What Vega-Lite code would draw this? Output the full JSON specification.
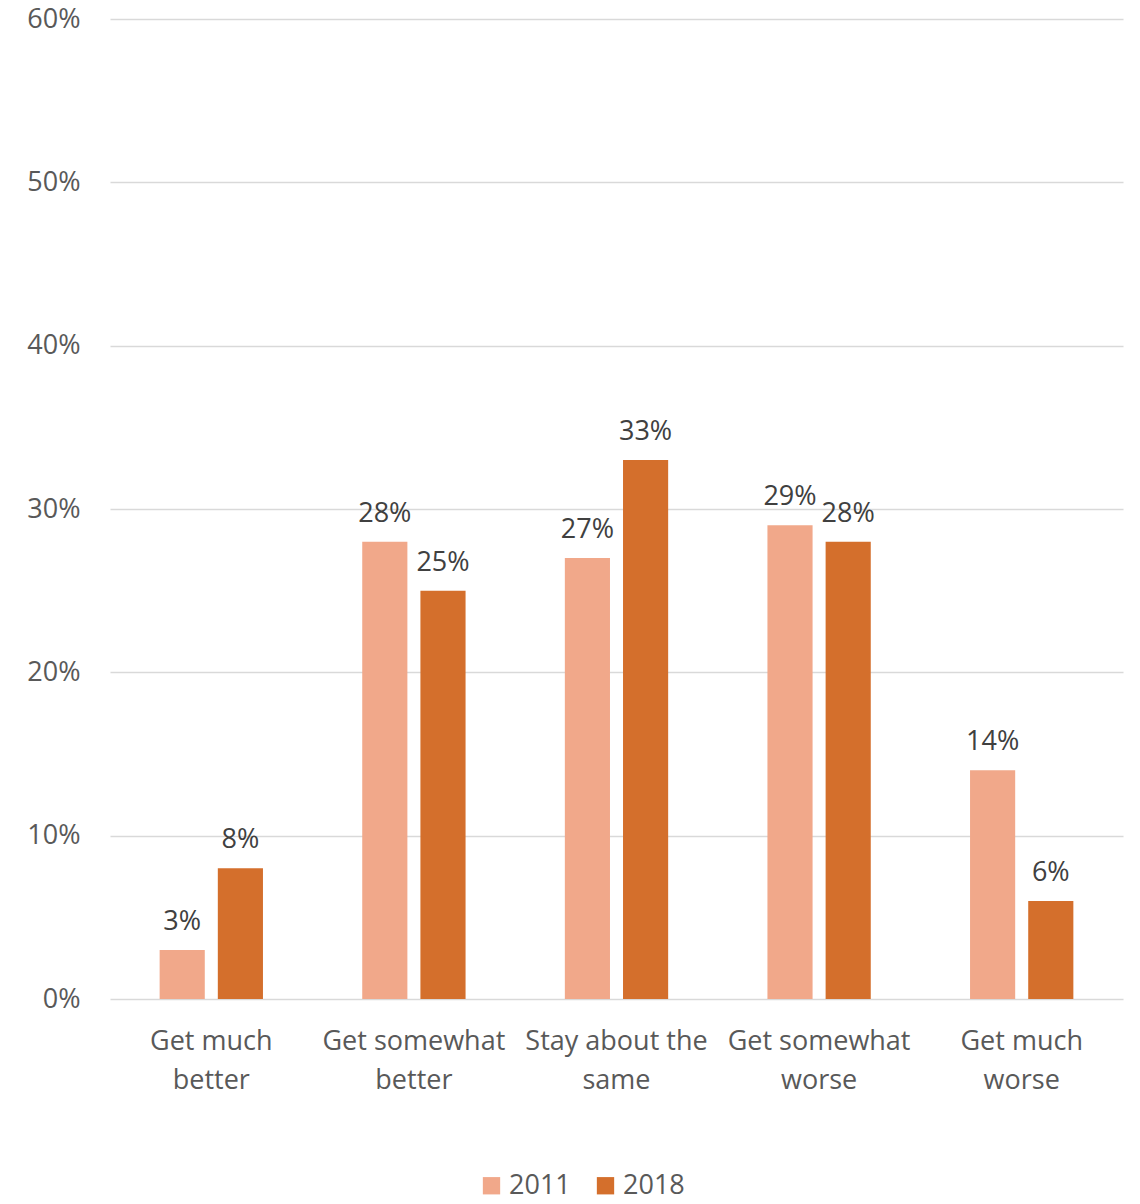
{
  "$schema": "https://vega.github.io/schema/vega-lite/v6.json",
  "width": 1013,
  "height": 980,
  "autosize": "none",
  "padding": {"left": 110, "top": 19, "right": 17, "bottom": 205},
  "background": "white",
  "config": {
    "view": {"stroke": null},
    "font": "Open Sans"
  },
  "data": {
    "values": [
      {"category": "Get much better", "year": "2011", "value": 0.03},
      {"category": "Get much better", "year": "2018", "value": 0.08},
      {"category": "Get somewhat better", "year": "2011", "value": 0.28},
      {"category": "Get somewhat better", "year": "2018", "value": 0.25},
      {"category": "Stay about the same", "year": "2011", "value": 0.27},
      {"category": "Stay about the same", "year": "2018", "value": 0.33},
      {"category": "Get somewhat worse", "year": "2011", "value": 0.29},
      {"category": "Get somewhat worse", "year": "2018", "value": 0.28},
      {"category": "Get much worse", "year": "2011", "value": 0.14},
      {"category": "Get much worse", "year": "2018", "value": 0.06}
    ]
  },
  "encoding": {
    "x": {
      "field": "category",
      "type": "nominal",
      "sort": null,
      "scale": {"paddingInner": 0.49, "paddingOuter": 0.245},
      "axis": {
        "title": null,
        "labelAngle": 0,
        "domain": false,
        "ticks": false,
        "labelFontSize": 27,
        "labelColor": "#595959",
        "labelPadding": 29,
        "labelLineHeight": 39,
        "labelBaseline": "top",
        "labelLimit": 0,
        "labelOverlap": false,
        "labelExpr": "[substring(datum.value, 0, lastindexof(datum.value, ' ')), substring(datum.value, lastindexof(datum.value, ' ') + 1)]"
      }
    },
    "xOffset": {
      "field": "year",
      "type": "nominal",
      "scale": {"paddingInner": 0.224, "paddingOuter": 0}
    },
    "y": {
      "field": "value",
      "type": "quantitative",
      "scale": {"domain": [0, 0.6]},
      "axis": {
        "title": null,
        "values": [0, 0.1, 0.2, 0.3, 0.4, 0.5, 0.6],
        "format": ".0%",
        "domain": false,
        "ticks": false,
        "gridColor": "#d9d9d9",
        "gridWidth": 1.5,
        "labelFontSize": 27,
        "labelColor": "#595959",
        "labelPadding": 30
      }
    }
  },
  "layer": [
    {
      "mark": {"type": "bar"},
      "encoding": {
        "color": {
          "field": "year",
          "type": "nominal",
          "scale": {"domain": ["2011", "2018"], "range": ["#F1A88A", "#D46F2C"]},
          "legend": {
            "title": null,
            "orient": "none",
            "direction": "horizontal",
            "legendX": 368,
            "legendY": 1153,
            "symbolType": "square",
            "symbolSize": 300,
            "symbolStrokeWidth": 0,
            "labelFontSize": 27,
            "labelColor": "#595959",
            "columnPadding": 21,
            "symbolOffset": 0
          }
        }
      }
    },
    {
      "mark": {"type": "text", "baseline": "alphabetic", "dy": -20, "fontSize": 27, "color": "#404040"},
      "encoding": {
        "text": {"field": "value", "type": "quantitative", "format": ".0%"},
        "detail": {"field": "year"}
      }
    }
  ]
}
